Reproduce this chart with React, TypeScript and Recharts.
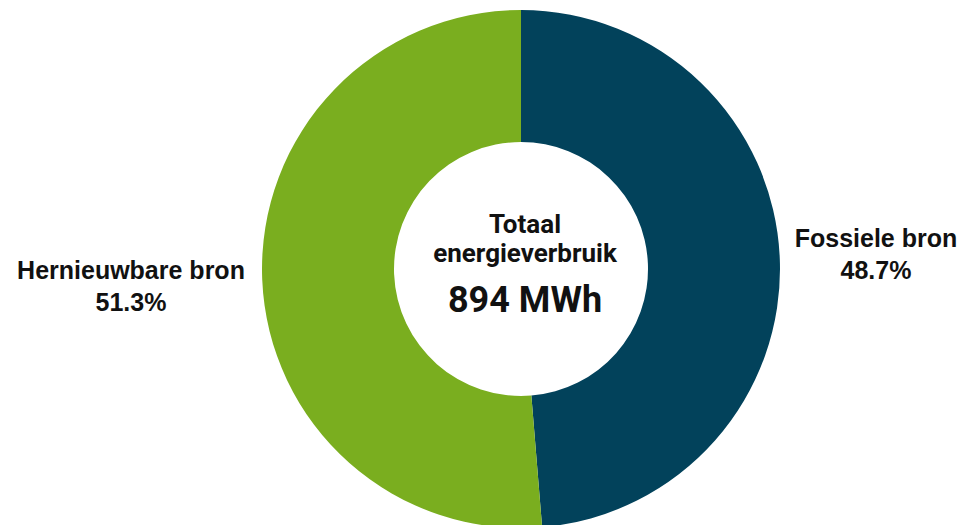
import { PieChart, Pie, Cell } from "recharts";

const categories = ["Fossiele bron", "Hernieuwbare bron"];
const shares = [48.7, 51.3];
const colors = ["#02425b", "#7aae1f"];
const totalLabel = ["Totaal", "energieverbruik"];
const totalValue = "894 MWh";

const data = categories.map((name, i) => ({ name, value: shares[i] }));

const W = 963;
const H = 525;
const CX = 521;
const CY = 269;

const LABEL_FONT = "'Liberation Sans', Arial, sans-serif";
const CENTER_FONT = "Roboto, 'Noto Sans', sans-serif";

function SliceLabel(props: any) {
    const { cx, cy, midAngle, outerRadius, name, value } = props;
    const right = Math.cos((-midAngle * Math.PI) / 180) > 0;
    // outside labels sit at different distances on each side
    const x = right ? cx + outerRadius + 96 : cx - outerRadius - 131;
    const y = right ? cy - 22 : cy + 10;
    return (
        <text
            x={x}
            y={y}
            textAnchor="middle"
            fill="#111"
            fontFamily={LABEL_FONT}
            fontWeight={700}
            fontSize={25}
        >
            <tspan x={x}>{name}</tspan>
            <tspan x={x} dy={32}>{`${value.toFixed(1)}%`}</tspan>
        </text>
    );
}

function CenterText() {
    const x = CX + 4;
    return (
        <svg
            width={W}
            height={H}
            style={{ position: "absolute", left: 0, top: 0, pointerEvents: "none" }}
        >
            <text textAnchor="middle" fill="#111" fontFamily={CENTER_FONT} fontWeight={700}>
                <tspan x={x} y={CY - 36} fontSize={26}>{totalLabel[0]}</tspan>
                <tspan x={x} y={CY - 7} fontSize={26}>{totalLabel[1]}</tspan>
                <tspan x={x} y={CY + 43} fontSize={36}>{totalValue}</tspan>
            </text>
        </svg>
    );
}

export default function App() {
    return (
        <div style={{ position: "absolute", left: 0, top: 0, width: W, height: H, background: "#fff" }}>
            <PieChart width={W} height={H} margin={{ top: 0, right: 0, bottom: 0, left: 0 }}>
                <Pie
                    data={data}
                    dataKey="value"
                    nameKey="name"
                    cx={CX}
                    cy={CY}
                    innerRadius={127}
                    outerRadius={259}
                    startAngle={90}
                    endAngle={-270}
                    stroke="none"
                    labelLine={false}
                    label={SliceLabel}
                    isAnimationActive={false}
                >
                    {data.map((d, i) => (
                        <Cell key={d.name} fill={colors[i]} />
                    ))}
                </Pie>
            </PieChart>
            <CenterText />
        </div>
    );
}
